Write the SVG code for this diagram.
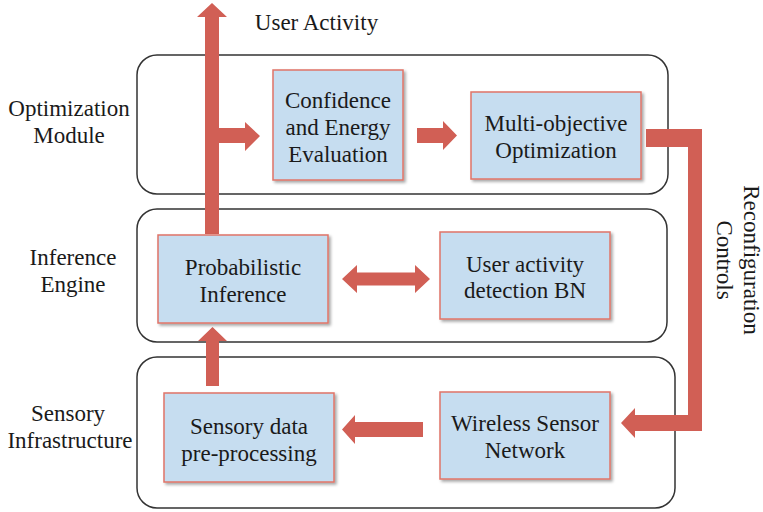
<svg xmlns="http://www.w3.org/2000/svg" width="763" height="512" viewBox="0 0 763 512">
<defs>
<filter id="sh" x="-10%" y="-10%" width="130%" height="130%">
<feDropShadow dx="2" dy="2" stdDeviation="1.5" flood-color="#000" flood-opacity="0.35"/>
</filter>
</defs>
<style>
.layer{fill:#fff;stroke:#333;stroke-width:1.5}
.box{fill:#c6ddf0;stroke:#e07468;stroke-width:1.5;filter:url(#sh)}
.arr{fill:#d15f55}
text{font-family:"Liberation Serif","Times New Roman","DejaVu Serif",serif;font-size:23px;fill:#1a1a1a;text-anchor:middle}
</style>
<rect width="763" height="512" fill="#fff"/>
<g id="layers">
<rect id="layer-optimization" class="layer" x="137" y="55" width="531" height="139" rx="20"/>
<rect id="layer-inference" class="layer" x="137" y="209" width="530" height="133" rx="20"/>
<rect id="layer-sensory" class="layer" x="137" y="357" width="538" height="151" rx="20"/>
</g>
<g id="labels">
<text x="69" y="116">Optimization</text>
<text x="69" y="143">Module</text>
<text x="73" y="265">Inference</text>
<text x="73" y="292">Engine</text>
<text x="68" y="421">Sensory</text>
<text x="70" y="448">Infrastructure</text>
<text x="316.5" y="30">User Activity</text>
<text transform="translate(744,260) rotate(90)"><tspan x="0" y="0">Reconfiguration</tspan><tspan x="0" y="27">Controls</tspan></text>
</g>
<g id="connectors">
<polygon class="arr" points="205,234 205,17 197,17 212,3 227,17 219,17 219,128 245,128 245,122 260,136 245,151 245,143 219,143 219,234"/>
<polygon class="arr" points="206,386 206,341 198,341 212.5,327 227,341 219,341 219,386"/>
<polygon class="arr" points="417,128 443,128 443,121 457,135.5 443,150 443,143 417,143"/>
<polygon class="arr" points="342,279 357,265 357,272.5 415,272.5 415,265 430,279 415,293 415,285.5 357,285.5 357,293"/>
<polygon class="arr" points="423,422 355,422 355,415 342,429.5 355,444 355,437 423,437"/>
<polygon class="arr" points="646,129 702,129 702,431 635,431 635,438 621,423 635,408 635,415 688,415 688,147 646,147"/>
</g>
<g id="node-confidence">
<rect class="box" x="273" y="70" width="130" height="110"/>
<text x="338" y="108">Confidence</text>
<text x="338" y="135">and Energy</text>
<text x="338" y="162">Evaluation</text>
</g>
<g id="node-multiobjective">
<rect class="box" x="471" y="92" width="170" height="87"/>
<text x="556" y="131">Multi-objective</text>
<text x="556" y="158">Optimization</text>
</g>
<g id="node-probabilistic">
<rect class="box" x="158" y="235" width="170" height="88"/>
<text x="243" y="275">Probabilistic</text>
<text x="243" y="302">Inference</text>
</g>
<g id="node-bn">
<rect class="box" x="440" y="232" width="170" height="87"/>
<text x="525" y="272">User activity</text>
<text x="525" y="298">detection BN</text>
</g>
<g id="node-preprocessing">
<rect class="box" x="164" y="393" width="170" height="89"/>
<text x="249" y="434">Sensory data</text>
<text x="249" y="461">pre-processing</text>
</g>
<g id="node-wsn">
<rect class="box" x="440" y="392" width="170" height="87"/>
<text x="525" y="431">Wireless Sensor</text>
<text x="525" y="458">Network</text>
</g>
</svg>
